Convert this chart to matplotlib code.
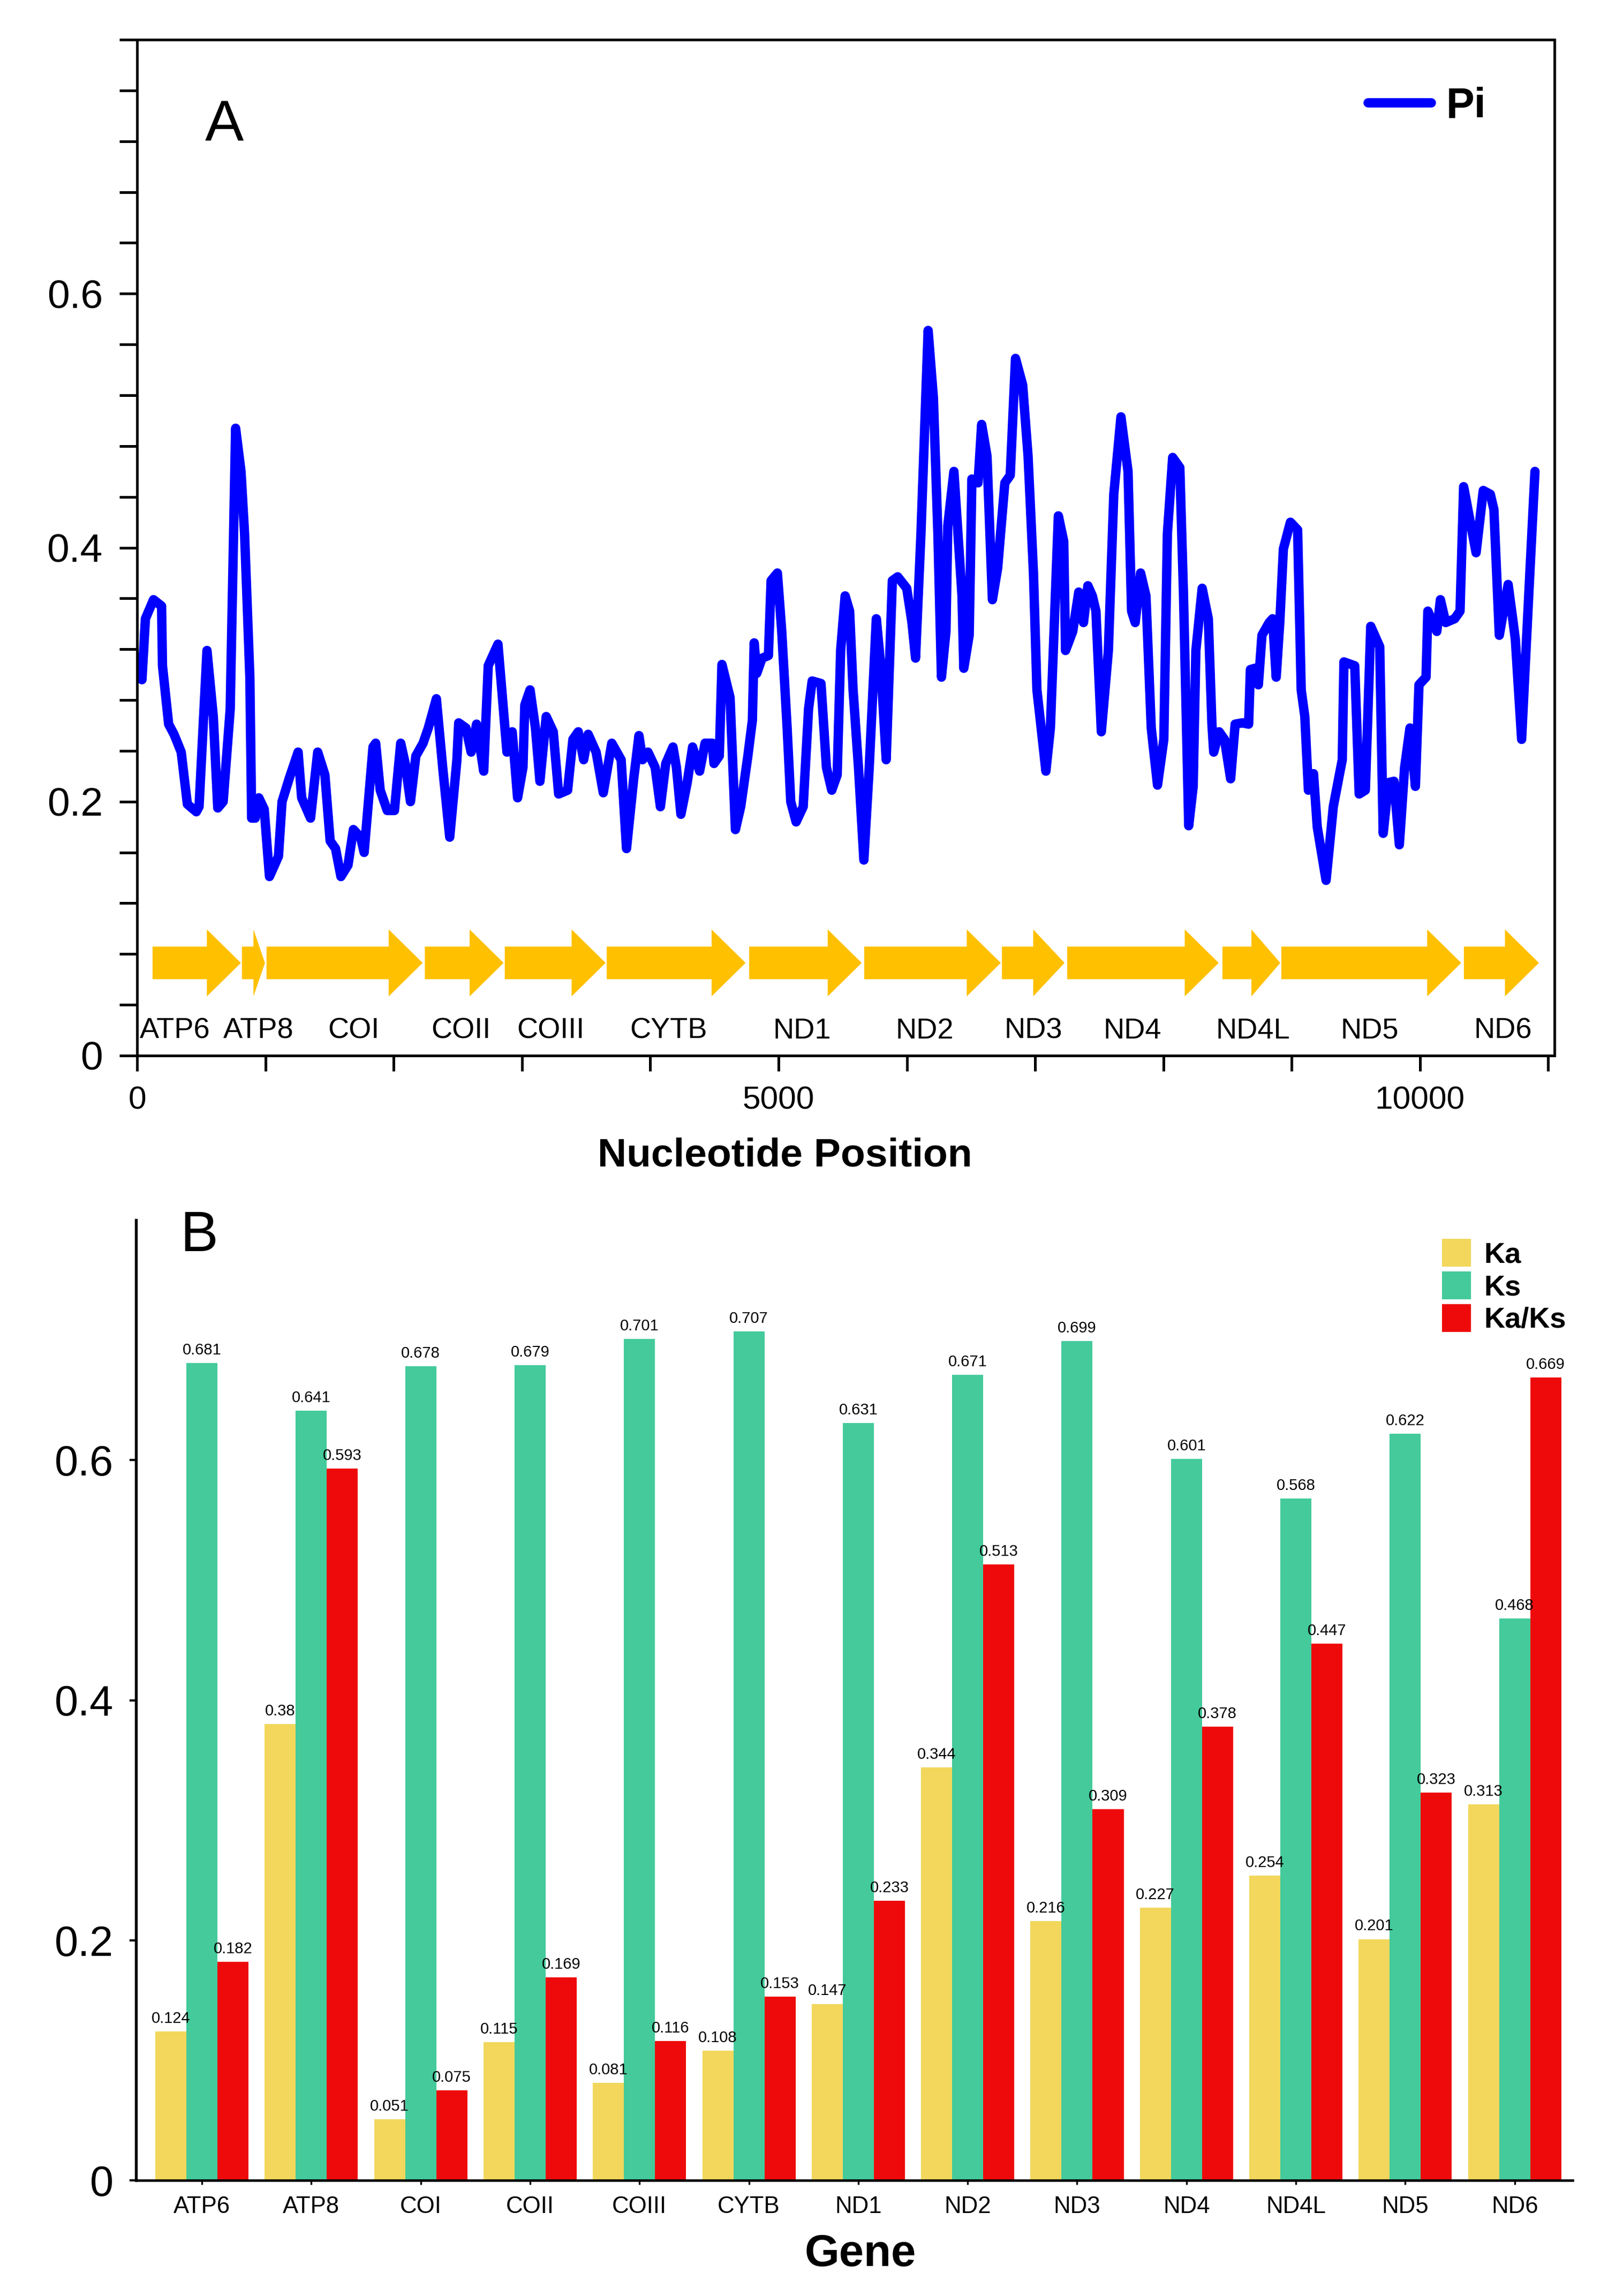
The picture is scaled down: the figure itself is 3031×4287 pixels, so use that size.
import numpy as np
import matplotlib
matplotlib.use('Agg')
import matplotlib.pyplot as plt
from matplotlib.patches import FancyArrow
from matplotlib.ticker import FixedLocator

plt.rcParams['font.family'] = ['Liberation Sans', 'DejaVu Sans']

# ---- panel A: nucleotide diversity (Pi), sliding window ----
pi_x = [38, 65, 128, 191, 198, 246, 288, 344, 392, 462, 483, 545, 594, 629, 671, 726, 768, 810, 838, 879,
        893, 921, 949, 991, 1032, 1102, 1130, 1185, 1255, 1283, 1352, 1408, 1464, 1505, 1547, 1589, 1644, 1686,
        1742, 1770, 1839,
        1860, 1895, 1950, 2006, 2055, 2090, 2131, 2173, 2229, 2270, 2333, 2382, 2437, 2493, 2507, 2563, 2604,
        2646, 2702, 2737, 2813, 2855, 2883, 2924, 2966, 3008, 3022, 3063, 3105, 3140, 3189, 3244, 3286, 3356,
        3397, 3439, 3481, 3516, 3578, 3634, 3700,
        3773, 3815, 3871, 3912, 3940, 3982, 4038, 4079, 4121, 4177, 4204, 4239, 4288, 4330, 4385, 4427, 4483,
        4497, 4538, 4559, 4622, 4664, 4705, 4761, 4796, 4810, 4830, 4872, 4921, 4942, 4991, 5025, 5067, 5095,
        5137, 5192, 5234, 5262, 5331, 5373, 5415, 5457, 5484,
        5519, 5554, 5581, 5623, 5665, 5707, 5762, 5797, 5839, 5887, 5929, 5999, 6040, 6068, 6110, 6166, 6207,
        6242, 6270, 6305, 6319, 6367, 6430, 6444, 6486, 6507, 6555, 6583, 6625, 6667, 6708, 6764, 6806, 6847,
        6903, 6945, 6987, 7014, 7084, 7119, 7181, 7223, 7237, 7293, 7340,
        7377, 7411, 7446, 7474, 7516, 7571, 7613, 7669, 7724, 7752, 7780, 7822, 7864, 7905, 7954, 8003, 8031,
        8072, 8128, 8156, 8197, 8232, 8253, 8302, 8350, 8378, 8392, 8434, 8476, 8524, 8559, 8615, 8664, 8678,
        8712, 8740, 8768, 8824, 8851, 8879, 8907, 8935, 8990, 9046, 9074, 9102, 9130, 9170,
        9199, 9268, 9324, 9394, 9407, 9491, 9526, 9574, 9616, 9686, 9713, 9755, 9797, 9839, 9880, 9922, 9964,
        9992, 10047, 10061, 10131, 10159, 10200, 10270, 10312, 10340, 10437, 10493, 10548, 10576, 10618, 10687,
        10743, 10792, 10826, 10896]
pi_y = [0.296, 0.344, 0.359, 0.354, 0.307, 0.261, 0.253, 0.239, 0.198, 0.192, 0.196, 0.319, 0.267, 0.195,
        0.200, 0.273, 0.494, 0.460, 0.411, 0.298, 0.187, 0.187, 0.203, 0.194, 0.141, 0.157, 0.200, 0.218,
        0.239, 0.203, 0.187, 0.239, 0.221, 0.169, 0.163, 0.141, 0.150, 0.178, 0.172, 0.160, 0.243,
        0.246, 0.209, 0.193, 0.193, 0.246, 0.230, 0.200, 0.236, 0.246, 0.258, 0.281, 0.227, 0.172, 0.233,
        0.262, 0.258, 0.239, 0.261, 0.224, 0.307, 0.324, 0.273, 0.239, 0.255, 0.203, 0.227, 0.276, 0.288,
        0.258, 0.216, 0.267, 0.255, 0.206, 0.209, 0.249, 0.255, 0.233, 0.253, 0.239, 0.207, 0.246,
        0.233, 0.163, 0.218, 0.252, 0.233, 0.239, 0.227, 0.196, 0.230, 0.243, 0.227, 0.190, 0.215, 0.243,
        0.224, 0.246, 0.246, 0.230, 0.236, 0.308, 0.282, 0.178, 0.196, 0.236, 0.264, 0.325, 0.301, 0.313,
        0.315, 0.374, 0.380, 0.334, 0.258, 0.200, 0.184, 0.196, 0.273, 0.295, 0.293, 0.227, 0.209, 0.221,
        0.319,
        0.362, 0.350, 0.288, 0.227, 0.154, 0.227, 0.344, 0.307, 0.233, 0.374, 0.377, 0.368, 0.341, 0.313,
        0.411, 0.571, 0.518, 0.411, 0.298, 0.334, 0.417, 0.460, 0.362, 0.305, 0.331, 0.454, 0.451, 0.497,
        0.472, 0.359, 0.384, 0.451, 0.457, 0.549, 0.528, 0.472, 0.380, 0.288, 0.224, 0.258, 0.425, 0.405,
        0.319, 0.334, 0.365,
        0.341, 0.370, 0.362, 0.350, 0.255, 0.319, 0.442, 0.503, 0.460, 0.350, 0.341, 0.380, 0.362, 0.258,
        0.213, 0.249, 0.411, 0.471, 0.463, 0.365, 0.181, 0.212, 0.319, 0.368, 0.344, 0.261, 0.239, 0.255,
        0.249, 0.218, 0.261, 0.262, 0.261, 0.304, 0.305, 0.292, 0.331, 0.341, 0.344, 0.298, 0.341, 0.399,
        0.420, 0.414, 0.288, 0.267, 0.209, 0.222,
        0.180, 0.138, 0.196, 0.233, 0.310, 0.307, 0.206, 0.209, 0.338, 0.322, 0.175, 0.215, 0.216, 0.166,
        0.227, 0.258, 0.212, 0.292, 0.298, 0.350, 0.334, 0.359, 0.341, 0.344, 0.350, 0.448, 0.396, 0.445,
        0.442, 0.430, 0.331, 0.371, 0.328, 0.249, 0.319, 0.460]

genes = ['ATP6', 'ATP8', 'COI', 'COII', 'COIII', 'CYTB', 'ND1', 'ND2', 'ND3', 'ND4', 'ND4L', 'ND5', 'ND6']
gene_start = [121, 817, 1009, 2243, 2866, 3661, 4771, 5668, 6741, 7250, 8460, 8919, 10342]
gene_end = [809, 997, 2226, 2857, 3652, 4743, 5648, 6732, 7229, 8431, 8911, 10321, 10927]

# ---- panel B: Ka, Ks and Ka/Ks per gene ----
ka = [0.124, 0.38, 0.051, 0.115, 0.081, 0.108, 0.147, 0.344, 0.216, 0.227, 0.254, 0.201, 0.313]
ks = [0.681, 0.641, 0.678, 0.679, 0.701, 0.707, 0.631, 0.671, 0.699, 0.601, 0.568, 0.622, 0.468]
ka_ks = [0.182, 0.593, 0.075, 0.169, 0.116, 0.153, 0.233, 0.513, 0.309, 0.378, 0.447, 0.323, 0.669]

W, H = 3031, 4287
fig = plt.figure(figsize=(W / 300, H / 300), dpi=300)

# panel A
ax1 = fig.add_axes([256 / W, 1 - 1971 / H, (2903 - 256) / W, (1971 - 74) / H])
ax1.plot(pi_x, pi_y, color='#0000FF', lw=4.2, solid_joinstyle='round',
         solid_capstyle='round', label='Pi')
ax1.set_xlim(0, 11048)
ax1.set_ylim(0, 0.8)

label_x = [297, 948, 1686, 2525, 3225, 4143, 5183, 6140, 6987, 7759, 8698, 9608, 10647]
for name, s, e, lx in zip(genes, gene_start, gene_end, label_x):
    length = e - s
    hl = min(265, 0.5 * length)
    ax1.add_patch(FancyArrow(s, 0.073, length, 0, width=0.0257, head_width=0.0527,
                             head_length=hl, length_includes_head=True,
                             color='#FFC000', lw=0))
    ax1.text(lx, 0.0135, name, ha='center', va='baseline', fontsize=13)

ax1.yaxis.set_major_locator(FixedLocator([0, 0.2, 0.4, 0.6]))
ax1.set_yticklabels(['0', '0.2', '0.4', '0.6'])
ax1.yaxis.set_minor_locator(FixedLocator([0.04, 0.08, 0.12, 0.16, 0.24, 0.28, 0.32, 0.36,
                                          0.44, 0.48, 0.52, 0.56, 0.64, 0.68, 0.72, 0.76, 0.8]))
ax1.xaxis.set_major_locator(FixedLocator([0, 5000, 10000]))
ax1.set_xticklabels(['0', '5000', '10000'])
ax1.xaxis.set_minor_locator(FixedLocator([1000, 2000, 3000, 4000, 6000, 7000, 8000, 9000, 11000]))
ax1.tick_params(axis='y', which='both', length=8, width=1.2, pad=7.4, labelsize=18)
ax1.tick_params(axis='x', which='both', length=7, width=1.2, pad=6.5, labelsize=14.5)
for sp in ax1.spines.values():
    sp.set_linewidth(1.2)

ax1.text(0.048, 0.900, 'A', transform=ax1.transAxes, fontsize=26, va='baseline')
ax1.legend(loc='center right', bbox_to_anchor=(0.952, 0.934), frameon=False, borderpad=0,
           borderaxespad=0, handlelength=1.5, handletextpad=0.35,
           prop={'weight': 'bold', 'size': 19})
fig.text(1466 / W, 1 - 2177 / H, 'Nucleotide Position', ha='center', va='baseline',
         fontsize=18, weight='bold')

# panel B
ax2 = fig.add_axes([254 / W, 1 - 4071 / H, (2937 - 254) / W, (4071 - 2278) / H])
x = np.arange(len(genes))
bw = 0.284
series = [(ka, 'Ka', '#F2D75C', -bw), (ks, 'Ks', '#44CA9B', 0), (ka_ks, 'Ka/Ks', '#EE0A0A', bw)]
for vals, name, col, off in series:
    ax2.bar(x + off, vals, width=bw, color=col, label=name)
    for xi, v in zip(x, vals):
        ax2.text(xi + off, v + 0.0045, f'{v:g}', ha='center', va='bottom', fontsize=7)

ax2.set_xlim(-0.602, 12.53)
ax2.set_ylim(0, 0.8)
ax2.set_xticks(x)
ax2.set_xticklabels(genes)
ax2.set_yticks([0, 0.2, 0.4, 0.6])
ax2.set_yticklabels(['0', '0.2', '0.4', '0.6'])
ax2.tick_params(axis='y', length=3, width=1.0, pad=7, labelsize=19)
ax2.tick_params(axis='x', length=2, width=0.8, pad=5, labelsize=10.5)
ax2.spines['top'].set_visible(False)
ax2.spines['right'].set_visible(False)
ax2.spines['left'].set_linewidth(1.3)
ax2.spines['bottom'].set_linewidth(1.1)

ax2.text(0.0306, 0.9677, 'B', transform=ax2.transAxes, fontsize=25.5, va='baseline')
ax2.legend(loc='upper left', bbox_to_anchor=(0.909, 0.9805), frameon=False, borderpad=0,
           borderaxespad=0, handlelength=1.0, handleheight=1.1, labelspacing=0.1,
           handletextpad=0.45, prop={'weight': 'bold', 'size': 13})
fig.text(1607 / W, 1 - 4231 / H, 'Gene', ha='center', va='baseline', fontsize=20, weight='bold')

fig.savefig('out.png', dpi=300)
